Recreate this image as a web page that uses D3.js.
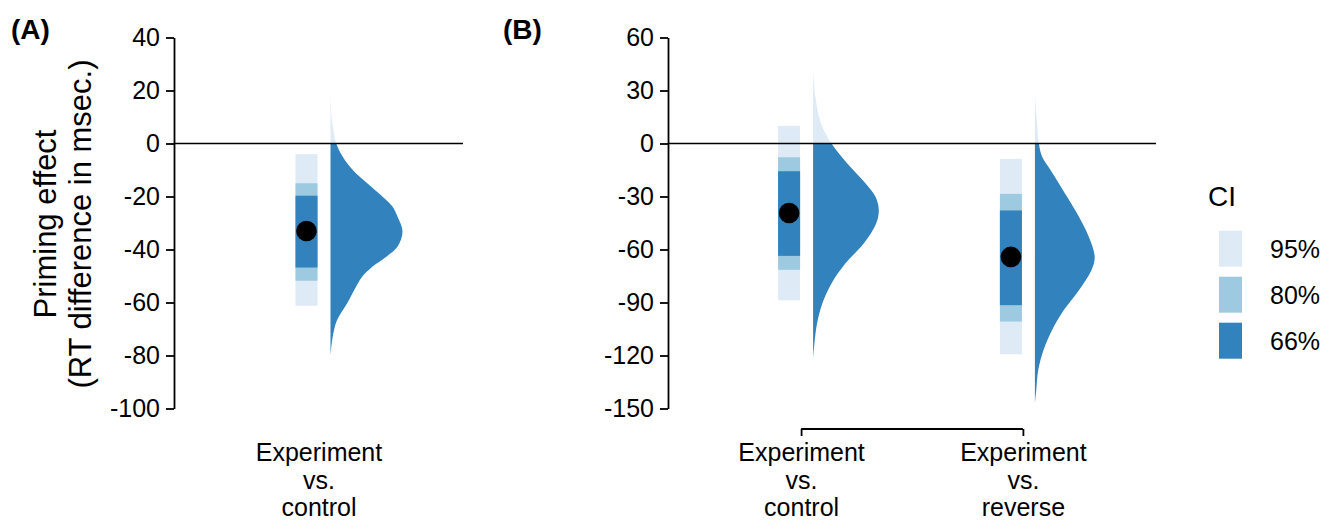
<!DOCTYPE html>
<html>
<head>
<meta charset="utf-8">
<script src="https://cdn.jsdelivr.net/npm/d3@7"></script>
<style>
  html, body { margin: 0; padding: 0; background: #fff; }
  svg { display: block; }
  text { font-family: "Liberation Sans", Arial, Helvetica, sans-serif; fill: #000; }
</style>
</head>
<body>
<svg id="chart" width="1323" height="521"></svg>
<script>
// ---------------- DATA ----------------
const aCategories = ["Experiment vs. control"];
const bCategories = ["Experiment vs. control", "Experiment vs. reverse"];

const aTicks = [40, 20, 0, -20, -40, -60, -80, -100];
const bTicks = [60, 30, 0, -30, -60, -90, -120, -150];

// point estimates (msec)
const aMean = [-33.0];
const bMean = [-39.3, -64.2];

// credible intervals [low, high]
const aCI95 = [[-61.2, -4.0]];
const aCI80 = [[-51.8, -15.0]];
const aCI66 = [[-46.8, -19.7]];
const bCI95 = [[-88.7, 10.0], [-119.3, -8.7]];
const bCI80 = [[-71.5, -7.8], [-100.8, -28.5]];
const bCI66 = [[-63.6, -15.7], [-91.5, -37.9]];

// posterior densities (value, relative density)
const aDensValue = [20.2, 15, 10, 5, 0, -5, -10, -15, -20, -23.8, -27.5, -33.2, -39, -42.8, -46.5, -50.3, -55.3, -60.4, -66.7, -73, -80];
const aDensHeight = [0, 0.005, 0.015, 0.04, 0.08, 0.17, 0.31, 0.51, 0.72, 0.86, 0.93, 1.0, 0.93, 0.77, 0.58, 0.44, 0.33, 0.23, 0.09, 0.03, 0];

const b1DensValue = [42, 26.4, 11.3, 0, -11.3, -22.6, -30.2, -37.7, -45.3, -56.6, -67.9, -79.2, -90.6, -101.9, -113.2, -121.7];
const b1DensHeight = [0, 0.035, 0.12, 0.28, 0.52, 0.80, 0.95, 1.0, 0.96, 0.77, 0.49, 0.28, 0.14, 0.06, 0.02, 0];

const b2DensValue = [28, 13.2, 0, -7.5, -15.1, -30.2, -41.5, -52.8, -64.2, -71.7, -83, -94.3, -105.7, -117, -128.3, -139.6, -147];
const b2DensHeight = [0, 0.03, 0.06, 0.11, 0.24, 0.49, 0.67, 0.82, 0.91, 0.86, 0.67, 0.44, 0.26, 0.13, 0.05, 0.02, 0];

const ciLevels = ["95%", "80%", "66%"];
const ciColors = ["#deebf7", "#9ecae1", "#3182bd"];

// ---------------- DRAW ----------------
const svg = d3.select("#chart");
svg.append("rect").attr("width", 1323).attr("height", 521).attr("fill", "#fff");

const FONT = 25;
const FAMILY = '"Liberation Sans", Arial, sans-serif';
const defs = svg.append("defs");

function panel(opts) {
  const { id, cats, ticks, means, ci95, ci80, ci66, dens, xRange, pad, densMax, showBracket } = opts;
  const y = d3.scaleLinear().domain([ticks[ticks.length - 1], ticks[0]]).range([408.5, 37.5]);
  const x = d3.scalePoint().domain(cats).range(xRange).padding(pad);
  const w = d3.scaleLinear().domain([0, 1]).range([0, densMax]);
  const g = svg.append("g");

  // y axis
  const ya = g.append("g").attr("transform", `translate(${xRange[0]},0)`)
    .call(d3.axisLeft(y).tickValues(ticks).tickFormat(d => String(d))
      .tickSize(8).tickSizeOuter(0).tickPadding(6));
  ya.select(".domain").attr("stroke", "#000").attr("stroke-width", 1.8);
  ya.selectAll(".tick line").attr("stroke", "#000").attr("stroke-width", 1.8);
  ya.selectAll(".tick text").attr("font-size", FONT).attr("fill", "#000").style("font-family", FAMILY);

  // clip paths for density colouring (above / below zero)
  const clipAbove = id + "-above", clipBelow = id + "-below";
  defs.append("clipPath").attr("id", clipAbove).append("rect")
    .attr("x", xRange[0]).attr("y", 0).attr("width", xRange[1] - xRange[0]).attr("height", y(0));
  defs.append("clipPath").attr("id", clipBelow).append("rect")
    .attr("x", xRange[0]).attr("y", y(0)).attr("width", xRange[1] - xRange[0]).attr("height", 521 - y(0));

  const BAR_W = 22;
  cats.forEach((c, i) => {
    const cx = x(c);
    [ci95, ci80, ci66].forEach((ci, k) => {
      g.append("rect")
        .attr("x", cx - 1 - BAR_W).attr("width", BAR_W)
        .attr("y", y(ci[i][1])).attr("height", y(ci[i][0]) - y(ci[i][1]))
        .attr("fill", ciColors[k]);
    });
    g.append("circle").attr("cx", cx - 1 - BAR_W / 2).attr("cy", y(means[i])).attr("r", 10.3).attr("fill", "#000");

    const base = cx + 12;
    const pts = dens[i][0].map((v, j) => ({ v, d: dens[i][1][j] }));
    const area = d3.area()
      .y(d => y(d.v))
      .x0(base)
      .x1(d => base + Math.max(0, w(d.d)))
      .curve(d3.curveCatmullRom.alpha(0.5));
    g.append("path").datum(pts).attr("d", area).attr("fill", ciColors[0]).attr("clip-path", `url(#${clipAbove})`);
    g.append("path").datum(pts).attr("d", area).attr("fill", ciColors[2]).attr("clip-path", `url(#${clipBelow})`);
  });

  // zero line
  g.append("line").attr("x1", xRange[0]).attr("x2", xRange[1]).attr("y1", y(0)).attr("y2", y(0))
    .attr("stroke", "#000").attr("stroke-width", 1.4);

  // x axis
  const xa = g.append("g").attr("transform", "translate(0,429)")
    .call(d3.axisBottom(x).tickSize(showBracket ? 7 : 0).tickSizeOuter(0));
  xa.select(".domain").remove();
  xa.selectAll(".tick line").attr("stroke", "#000").attr("stroke-width", 1.8);
  if (showBracket) {
    xa.append("line").attr("x1", x(cats[0])).attr("x2", x(cats[cats.length - 1]))
      .attr("y1", 0).attr("y2", 0).attr("stroke", "#000").attr("stroke-width", 1.8);
  }
  xa.selectAll(".tick text").each(function(d) {
    const t = d3.select(this);
    t.text(null).attr("y", 32).attr("dy", null).attr("font-size", FONT).attr("fill", "#000")
      .style("font-family", FAMILY);
    d.split(" ").forEach((word, k) => {
      t.append("tspan").attr("x", 0).attr("dy", k === 0 ? 0 : 27.5).text(word);
    });
  });
  return { x, y };
}

panel({
  id: "pa", cats: aCategories, ticks: aTicks, means: aMean,
  ci95: aCI95, ci80: aCI80, ci66: aCI66,
  dens: [[aDensValue, aDensHeight]],
  xRange: [174, 463], pad: 0.5, densMax: 72, showBracket: false
});
panel({
  id: "pb", cats: bCategories, ticks: bTicks, means: bMean,
  ci95: bCI95, ci80: bCI80, ci66: bCI66,
  dens: [[b1DensValue, b1DensHeight], [b2DensValue, b2DensHeight]],
  xRange: [668, 1156], pad: 0.6, densMax: 65.7, showBracket: true
});

// panel tags
svg.append("text").attr("x", 11).attr("y", 39).attr("font-size", 28).attr("font-weight", "bold").text("(A)");
svg.append("text").attr("x", 503).attr("y", 39).attr("font-size", 28).attr("font-weight", "bold").text("(B)");

// y-axis title
const yTitle = ["Priming effect", "(RT difference in msec.)"];
yTitle.forEach((t, i) => {
  svg.append("text")
    .attr("transform", `translate(${56 + i * 35},224) rotate(-90)`)
    .attr("text-anchor", "middle").attr("font-size", 31).text(t);
});

// legend
const lg = svg.append("g");
lg.append("text").attr("x", 1208).attr("y", 206).attr("font-size", 28).text("CI");
ciLevels.forEach((lab, i) => {
  const yy = 230.7 + i * 46;
  lg.append("rect").attr("x", 1219).attr("y", yy).attr("width", 23).attr("height", 36).attr("fill", ciColors[i]);
  lg.append("text").attr("x", 1270).attr("y", yy + 18).attr("dy", "0.36em").attr("font-size", FONT).text(lab);
});
</script>
</body>
</html>
